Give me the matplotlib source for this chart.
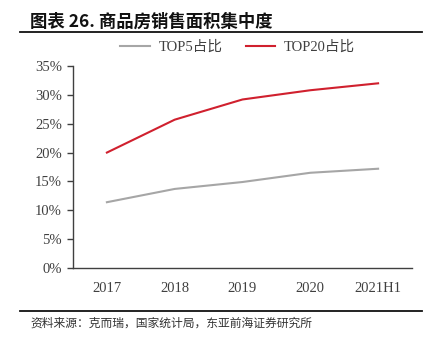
import matplotlib
matplotlib.use('Agg')
import matplotlib.pyplot as plt
from matplotlib.lines import Line2D

plt.rcParams['font.family'] = ['Liberation Serif', 'Noto Sans CJK SC']

# data
years = ['2017', '2018', '2019', '2020', '2021H1']
top5 = [0.114, 0.137, 0.149, 0.165, 0.172]
top20 = [0.200, 0.257, 0.292, 0.308, 0.320]
yticks = [0, 0.05, 0.10, 0.15, 0.20, 0.25, 0.30, 0.35]

gray = '#a6a6a6'
red = '#d0202e'
txt = '#404040'

fig = plt.figure(figsize=(4.36, 3.39), dpi=100)
ax = fig.add_axes([73 / 436, 1 - 268 / 339, (412 - 73) / 436, (268 - 66) / 339])

x = list(range(len(years)))
l1, = ax.plot(x, top5, color=gray, lw=1.5)
l2, = ax.plot(x, top20, color=red, lw=1.5)

ax.set_xlim(-0.5, len(years) - 0.5)
ax.set_ylim(0, 0.35)
ax.set_xticks(x)
ax.set_xticklabels(years)
ax.set_yticks(yticks)
ax.set_yticklabels(['{:.0f}%'.format(v * 100) for v in yticks])
ax.tick_params(axis='x', length=0, pad=10, labelsize=10.5, labelcolor=txt)
ax.tick_params(axis='y', length=4, width=1, direction='out', pad=4,
               labelsize=10.5, labelcolor=txt, color='#404040')
for s in ['top', 'right']:
    ax.spines[s].set_visible(False)
for s in ['left', 'bottom']:
    ax.spines[s].set_color('#404040')
    ax.spines[s].set_linewidth(1)

leg = fig.legend([l1, l2], ['TOP5占比', 'TOP20占比'], loc='center',
                 bbox_to_anchor=(0.545, 1 - 47 / 339), ncol=2, frameon=False,
                 fontsize=10.5, handlelength=2.0, columnspacing=1.6,
                 handletextpad=0.6)
for t in leg.get_texts():
    t.set_color(txt)

# header and footer
fig.text(30 / 436, 1 - 22 / 339, '图表 26. 商品房销售面积集中度', fontsize=12.5,
         fontweight='bold', family=['Noto Sans CJK SC', 'DejaVu Sans'],
         va='center', ha='left', color='#111111')
fig.add_artist(Line2D([20 / 436, 422 / 436], [1 - 32 / 339] * 2, color='#111111', lw=1.3))
fig.add_artist(Line2D([20 / 436, 422 / 436], [1 - 311 / 339] * 2, color='#111111', lw=1.3))
fig.text(30 / 436, 1 - 323 / 339, '资料来源：克而瑞，国家统计局，东亚前海证券研究所', fontsize=8.5,
         family=['Noto Sans CJK SC', 'DejaVu Sans'], va='center', ha='left', color='#333333')

fig.savefig('out.png', dpi=100)
